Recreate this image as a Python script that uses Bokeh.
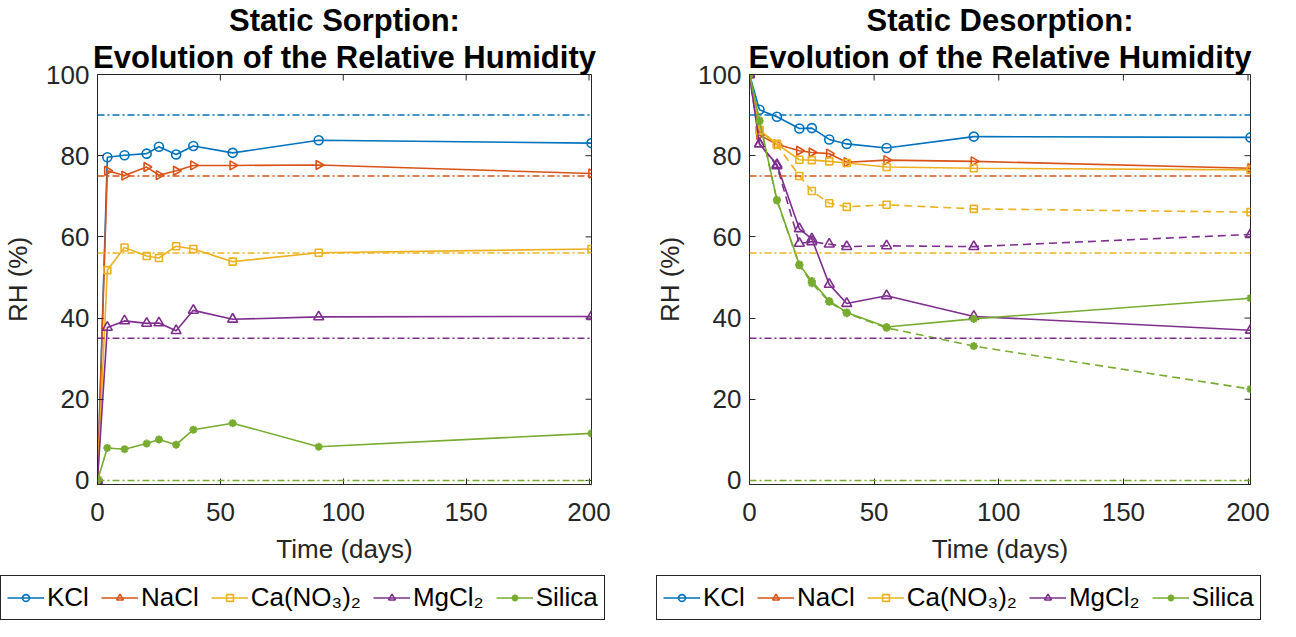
import math
from bokeh.plotting import figure
from bokeh.models import Span, Legend, LegendItem, Title, FixedTicker, Range1d
from bokeh.layouts import row, column
from bokeh.embed import file_html
from bokeh.resources import INLINE

# ---------------- data ----------------
days = [0, 4, 11, 20, 25, 32, 39, 55, 90, 201]

names = ["KCl", "NaCl", "Ca(NO\u2083)\u2082", "MgCl\u2082", "Silica"]
colors = ["#0072BD", "#D95319", "#EDB120", "#7E2F8E", "#77AC30"]
ref_rh = [90, 75, 56, 35, 0]

sorp_kcl = [0, 79.6, 80.1, 80.5, 82.2, 80.3, 82.4, 80.7, 83.8, 83.1]
sorp_nacl = [0, 76.3, 75.1, 77.2, 75.2, 76.3, 77.6, 77.6, 77.7, 75.6]
sorp_ca = [0, 51.8, 57.4, 55.3, 54.8, 57.7, 57.0, 53.9, 56.1, 57.0]
sorp_mg = [0, 37.7, 39.3, 38.7, 38.8, 36.9, 41.9, 39.7, 40.3, 40.4]
sorp_si = [0, 8.0, 7.7, 9.1, 10.1, 8.8, 12.5, 14.1, 8.3, 11.6]

des_kcl = [100, 91.3, 89.6, 86.7, 86.8, 84.0, 82.9, 81.9, 84.7, 84.5]
des_nacl = [100, 85.1, 82.8, 81.2, 80.8, 80.5, 78.4, 78.9, 78.6, 76.9]
des_ca = [100, 86.3, 82.9, 79.0, 78.9, 78.6, 78.2, 77.2, 76.9, 76.5]
des_mg = [100, 82.9, 77.8, 62.0, 59.5, 48.3, 43.6, 45.5, 40.4, 37.0]
des_si = [100, 88.7, 69.1, 53.2, 49.1, 44.2, 41.4, 37.8, 39.8, 44.9]

# second (dashed) desorption series
des_ca_b = [100, 86.3, 82.7, 75.0, 71.3, 68.3, 67.4, 67.9, 66.9, 66.1]
des_mg_b = [100, 82.9, 77.5, 58.4, 58.8, 58.2, 57.6, 57.8, 57.6, 60.6]
des_si_b = [100, 88.5, 69.0, 53.0, 48.6, 44.0, 41.2, 37.6, 33.1, 22.5]

x_ticks = [0, 50, 100, 150, 200]
y_ticks = [0, 20, 40, 60, 80, 100]
x_lim = (0, 201)
y_lim = (-1, 100)

# ---------------- style ----------------
FONT = "Liberation Sans"
TXT = "#262626"
markers = ["circle", "triangle", "square", "triangle", "asterisk"]
angles = [0, -math.pi / 2, 0, 0, 0]
msizes = [9, 9, 7, 10, 8]


def style_axis(ax):
    ax.major_tick_in = 6
    ax.major_tick_out = 0
    ax.minor_tick_line_color = None
    ax.axis_line_color = TXT
    ax.major_tick_line_color = TXT
    ax.major_label_text_font = FONT
    ax.major_label_text_color = TXT
    ax.major_label_text_font_size = "26px"
    ax.major_label_text_line_height = 1.0
    ax.axis_label_text_font = FONT
    ax.axis_label_text_font_size = "26px"
    ax.axis_label_text_font_style = "normal"
    ax.axis_label_text_color = TXT
    ax.axis_label_text_line_height = 1.0


def draw_series(p, xs, ys, i, dash="solid"):
    c = colors[i]
    lr = p.line(xs, ys, line_color=c, line_width=1.6, line_dash=dash)
    fill = c if markers[i] == "asterisk" else None
    sr = p.scatter(xs, ys, marker=markers[i], size=msizes[i], angle=angles[i],
                   line_color=c, fill_color=fill,
                   line_width=1.6 if markers[i] != "asterisk" else 2.2)
    return [lr, sr]


def make_fig(t1, t2, solid, dashed, border_left, border_right):
    p = figure(width=border_left + 501 + border_right, height=572,
               x_range=Range1d(*x_lim), y_range=Range1d(*y_lim),
               output_backend="svg", toolbar_location=None, title=None,
               min_border_left=border_left, min_border_right=border_right,
               min_border_top=69, min_border_bottom=88)
    p.xgrid.visible = False
    p.ygrid.visible = False
    p.outline_line_color = TXT
    p.outline_line_alpha = 1
    p.outline_line_width = 1

    p.xaxis.ticker = FixedTicker(ticks=x_ticks)
    p.yaxis.ticker = FixedTicker(ticks=y_ticks)
    style_axis(p.xaxis[0])
    style_axis(p.yaxis[0])
    p.xaxis.major_label_standoff = 18
    p.yaxis.major_label_standoff = 8
    p.xaxis.axis_label = "Time (days)"
    p.yaxis.axis_label = "RH (%)"
    p.xaxis.axis_label_standoff = 10
    p.yaxis.axis_label_standoff = 10

    # mirrored inward ticks on the top and right edges of the box
    p.scatter(x_ticks, [y_lim[1]] * len(x_ticks), marker="dash", angle=math.pi / 2,
              size=12, line_color=TXT, line_width=1)
    p.scatter([x_lim[1]] * len(y_ticks), y_ticks, marker="dash",
              size=12, line_color=TXT, line_width=1)

    p.add_layout(Title(text=t2, align="center", text_font=FONT, text_font_size="31px",
                       text_font_style="bold", text_color="black", standoff=0), "above")
    p.add_layout(Title(text=t1, align="center", text_font=FONT, text_font_size="31px",
                       text_font_style="bold", text_color="black", standoff=0), "above")

    for v, c in zip(ref_rh, colors):
        p.add_layout(Span(location=v, dimension="width", line_color=c, line_width=1.5,
                          line_dash="7 3 2 3"))

    for i, ys in enumerate(solid):
        draw_series(p, days, ys, i)
    for i, ys in dashed:
        draw_series(p, days, ys, i, dash="8 5")
    return p


def make_legend_fig(x_off, series):
    # legend-only strip; its renderers hold the real series but lie outside the view
    lf = figure(width=640, height=49, min_border=0, x_axis_type=None, y_axis_type=None,
                x_range=Range1d(1000, 1001), y_range=Range1d(1000, 1001),
                output_backend="svg", toolbar_location=None, title=None)
    lf.outline_line_color = None
    items = []
    for i, ys in enumerate(series):
        rs = draw_series(lf, days, ys, i)
        items.append(LegendItem(label=names[i], renderers=rs))
    leg = Legend(items=items, orientation="horizontal", location=(x_off, 1),
                 label_text_font=FONT, label_text_font_size="26px", label_text_color="black",
                 glyph_width=37, glyph_height=17, label_standoff=3, spacing=12,
                 padding=6, margin=0, border_line_color=TXT, border_line_width=1,
                 border_line_alpha=1, background_fill_alpha=1)
    lf.add_layout(leg, "center")
    return lf


sorp = [sorp_kcl, sorp_nacl, sorp_ca, sorp_mg, sorp_si]
desp = [des_kcl, des_nacl, des_ca, des_mg, des_si]

p1 = make_fig("Static Sorption:", "Evolution of the Relative Humidity", sorp, [], 90, 49)
p2 = make_fig("Static Desorption:", "Evolution of the Relative Humidity", desp,
              [(2, des_ca_b), (3, des_mg_b), (4, des_si_b)], 109, 30)
l1 = make_legend_fig(0, sorp)
l2 = make_legend_fig(16, desp)

layout = column(row(p1, p2), row(l1, l2))
open("out.html", "w").write(file_html(layout, INLINE))
